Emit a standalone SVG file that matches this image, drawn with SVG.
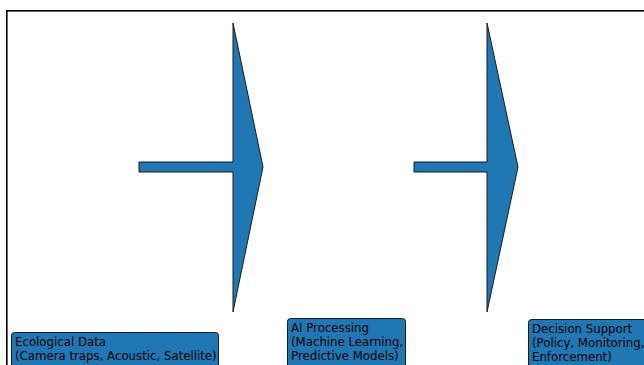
<svg xmlns="http://www.w3.org/2000/svg" width="644" height="365" viewBox="0 0 644 365">
<style>
.arrow{fill:#1f77b4;stroke:#1a1a1a;stroke-width:1;stroke-linejoin:miter}
.box{fill:#1f77b4;stroke:#1a1a1a;stroke-width:1}
.t{font-family:"DejaVu Sans",sans-serif;font-size:11.75px;fill:#000}
</style>
<rect x="0" y="0" width="644" height="365" fill="#fff"/>
<rect x="6.8" y="10.8" width="700" height="400" fill="none" stroke="#000" stroke-width="1.6"/>
<g id="connectors">
<polygon class="arrow" points="139,162 233,162 233,23 263,167 233,312 233,172 139,172 139,162"/>
<polygon class="arrow" points="414,162 487,162 487,23 518,167 487,312 487,172 414,172 414,162"/>
</g>
<g id="node1">
<rect class="box" x="11.5" y="332.5" width="207" height="40" rx="3"/>
<text class="t" x="15" y="345.5">Ecological Data</text>
<text class="t" x="15" y="359.5">(Camera traps, Acoustic, Satellite)</text>
</g>
<g id="node2">
<rect class="box" x="287.5" y="318.5" width="118" height="60" rx="3"/>
<text class="t" x="291" y="331.5">AI Processing</text>
<text class="t" x="291" y="345.5">(Machine Learning,</text>
<text class="t" x="291" y="359.5">Predictive Models)</text>
</g>
<g id="node3">
<rect class="box" x="528.5" y="319.5" width="130" height="60" rx="3"/>
<text class="t" x="532" y="332.5">Decision Support</text>
<text class="t" x="532" y="346.5">(Policy, Monitoring,</text>
<text class="t" x="532" y="360.5">Enforcement)</text>
</g>
</svg>
